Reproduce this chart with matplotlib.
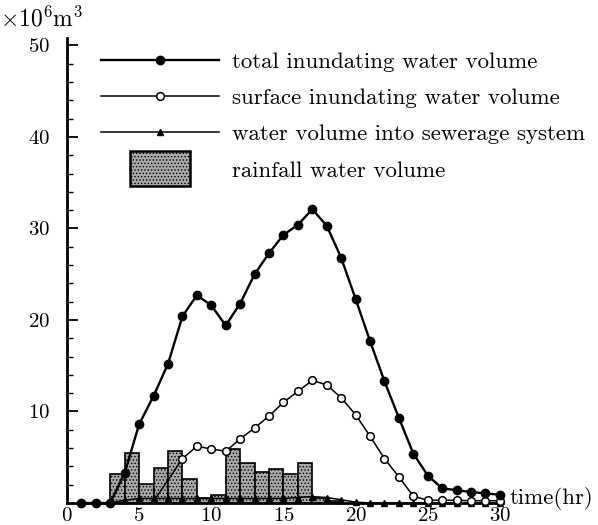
import matplotlib
matplotlib.use("Agg")
import matplotlib.pyplot as plt
import matplotlib.patches as mpatches
from matplotlib.legend_handler import HandlerPatch
from matplotlib.ticker import MultipleLocator

# ---- data ----
hours_total = list(range(1, 31))
total_volume = [0, 0, 0, 3.3, 8.6, 11.7, 15.2, 20.4, 22.7, 21.6, 19.4, 21.8, 25.0,
                27.3, 29.3, 30.4, 32.1, 30.3, 26.8, 22.3, 17.7, 13.3, 9.3, 5.4,
                3.0, 1.6, 1.4, 1.2, 1.05, 0.9]

hours_surface = list(range(6, 31))
surface_volume = [0.2, 2.5, 4.85, 6.2, 5.9, 5.65, 7.0, 8.2, 9.5, 11.0, 12.2, 13.4,
                  12.9, 11.5, 9.65, 7.3, 4.85, 2.85, 0.75, 0.3, 0.3, 0.3, 0.25,
                  0.25, 0.25]

hours_sewer = list(range(1, 31))
sewer_volume = [0, 0, 0, 0.3, 0.5, 0.5, 0.5, 0.5, 0.5, 0.5, 0.5, 0.5, 0.5, 0.5,
                0.5, 0.6, 0.7, 0.6, 0.35, 0.1, 0, 0, 0, 0, 0, 0, 0, 0, 0, 0]

rain_start = [3, 4, 5, 6, 7, 8, 9, 10, 11, 12, 13, 14, 15, 16, 17, 18]
rain_volume = [3.2, 5.45, 2.1, 3.8, 5.7, 2.6, 0.55, 0.9, 5.9, 4.4, 3.4, 3.7,
               3.15, 4.4, 0.5, 0.2]

yticks = [10, 20, 30, 40, 50]
xticks = [0, 5, 10, 15, 20, 25, 30]

labels = ["total inundating water volume",
          "surface inundating water volume",
          "water volume into sewerage system",
          "rainfall water volume"]

# ---- figure ----
plt.rcParams['font.family'] = ['cmr10', 'DejaVu Serif']
plt.rcParams['mathtext.fontset'] = 'cm'
plt.rcParams['axes.formatter.use_mathtext'] = True
plt.rcParams['hatch.linewidth'] = 0.6

fig = plt.figure(figsize=(5.98, 5.25), dpi=100)
ax = fig.add_axes([0.112, 0.0419, 0.7288, 0.8854])

ax.bar(rain_start, rain_volume, width=1.0, align='edge',
       facecolor='#a8a8a8', edgecolor='black', linewidth=1.2,
       hatch='.....', zorder=1)

l_total, = ax.plot(hours_total, total_volume, '-o', color='black', lw=1.7,
                   ms=6, mfc='black', zorder=4, clip_on=False)
l_surf, = ax.plot(hours_surface, surface_volume, '-o', color='black', lw=1.1,
                  ms=5.5, mfc='white', mew=1.1, zorder=3, clip_on=False,
                  markevery=list(range(2, len(hours_surface))))
l_sew, = ax.plot(hours_sewer, sewer_volume, '-^', color='black', lw=1.1,
                 ms=4, mfc='black', zorder=2, clip_on=False)

ax.set_xlim(0, 30.2)
ax.set_ylim(0, 50.8)
ax.set_yticks(yticks)
ax.set_xticks(xticks)
ax.yaxis.set_minor_locator(MultipleLocator(2))
ax.tick_params(axis='y', which='major', direction='in', length=8, width=1.3,
               labelsize=15, pad=12)
ax.tick_params(axis='y', which='minor', direction='in', length=4, width=1.0)
ax.tick_params(axis='x', which='major', direction='in', length=0,
               labelsize=15, pad=3)
for s in ['top', 'right']:
    ax.spines[s].set_visible(False)
ax.spines['left'].set_linewidth(2.0)
ax.spines['bottom'].set_linewidth(2.0)

fig.text(0.0, 0.94, r'$\times10^6\mathrm{m}^3$', fontsize=17, ha='left',
         va='bottom')
ax.text(1.015, 0.01, 'time(hr)', transform=ax.transAxes, fontsize=16.5,
        ha='left', va='center')


def make_rect(legend, orig_handle, xdescent, ydescent, width, height, fontsize):
    w = width * 0.51
    h = height * 2.2
    return mpatches.Rectangle((xdescent + (width - w) / 2,
                               ydescent + (height - h) / 2), w, h)


rain_handle = mpatches.Patch(facecolor='#a8a8a8', edgecolor='black',
                             linewidth=1.8, hatch='.....')
leg = ax.legend([l_total, l_surf, l_sew, rain_handle], labels,
                loc='upper left', bbox_to_anchor=(0.03, 1.014),
                frameon=False, fontsize=16.5, numpoints=1,
                handlelength=5.15, handletextpad=0.6, labelspacing=0.70,
                handler_map={mpatches.Patch: HandlerPatch(patch_func=make_rect)})

fig.savefig('out.png', dpi=100)
